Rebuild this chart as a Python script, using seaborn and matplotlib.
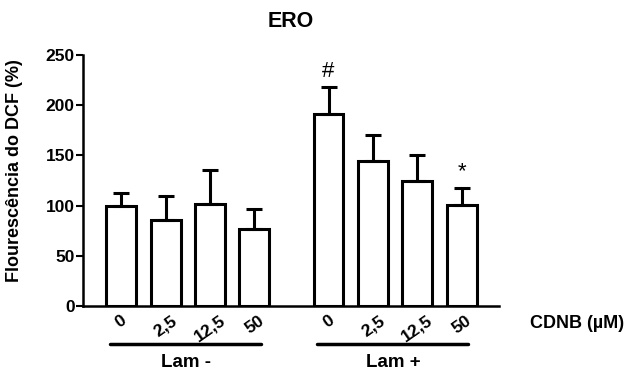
import matplotlib
matplotlib.use('Agg')
import matplotlib.pyplot as plt
import matplotlib.transforms as mtransforms
import numpy as np
import pandas as pd
import seaborn as sns


groups = ['Lam -', 'Lam +']
doses = ['0', '2,5', '12,5', '50']
means_minus = [100, 86, 102, 77]
err_minus = [13, 24, 33, 20]
means_plus = [191, 144, 125, 101]
err_plus = [27, 26, 25, 17]
marks_plus = ['#', '', '', '*']

sns.set_style('ticks')
plt.rcParams['font.family'] = ['Liberation Sans', 'DejaVu Sans']
for k in ['text.color', 'axes.labelcolor', 'xtick.color', 'ytick.color', 'axes.edgecolor']:
    plt.rcParams[k] = 'black'

gap = 0.67
rows = []
for g, (means, errs) in enumerate([(means_minus, err_minus), (means_plus, err_plus)]):
    for i, d in enumerate(doses):
        rows.append({'group': groups[g], 'dose': d, 'mean': means[i], 'err': errs[i],
                     'pos': g * (len(doses) + gap) + i})
df = pd.DataFrame(rows)

fig = plt.figure(figsize=(6.3, 3.72), dpi=100)
ax = fig.add_axes([83 / 630, 1 - 306 / 372, 416 / 630, 251 / 372])

sns.barplot(data=df, x='pos', y='mean', native_scale=True, width=0.675,
            color='white', edgecolor='black', linewidth=2.2, errorbar=None, ax=ax)
ax.errorbar(df['pos'], df['mean'], yerr=[np.zeros(len(df)), df['err']], fmt='none',
            ecolor='black', elinewidth=2.2, capsize=6, capthick=2.2, zorder=3)

# significance marks
for p, m, e, s in zip(df['pos'][4:], means_plus, err_plus, marks_plus):
    if s:
        ax.text(p, m + e + 5, s, ha='center', va='bottom', fontsize=16)

ax.set_xlim(-0.86, 8.51)
ax.set_ylim(0, 250)
ax.set_yticks([0, 50, 100, 150, 200, 250])
ax.set_xticks(df['pos'])
ax.set_xticklabels(df['dose'], rotation=35, fontweight='bold', fontsize=12.5,
                   ha='center', va='top')
ax.tick_params(axis='x', length=0, pad=5)
ax.tick_params(axis='y', length=5, width=1.5, labelsize=12.5, pad=1)
for lab in ax.get_yticklabels():
    lab.set_fontweight('bold')
sns.despine(ax=ax)
for sp in ['left', 'bottom']:
    ax.spines[sp].set_linewidth(1.8)

ax.set_xlabel('')
ax.set_ylabel('Flourescência do DCF (%)', fontweight='bold', fontsize=13)
ax.yaxis.set_label_coords(-0.144, 0.54)
ax.set_title('ERO', fontweight='bold', fontsize=15.5, pad=20)

ax.text(1.074, -0.068, 'CDNB (µM)', transform=ax.transAxes, ha='left', va='center',
        fontweight='bold', fontsize=13)

trans = mtransforms.blended_transform_factory(ax.transData, ax.transAxes)
for g, name in enumerate(groups):
    c = df.loc[df['group'] == name, 'pos'].mean() - 0.05
    ax.plot([c - 1.7, c + 1.7], [-0.151, -0.151], color='black', lw=2.5,
            transform=trans, clip_on=False)
    ax.text(c, -0.243, name, transform=trans, ha='center', va='baseline',
            fontweight='bold', fontsize=13.5)

fig.savefig('out.png', dpi=100)
